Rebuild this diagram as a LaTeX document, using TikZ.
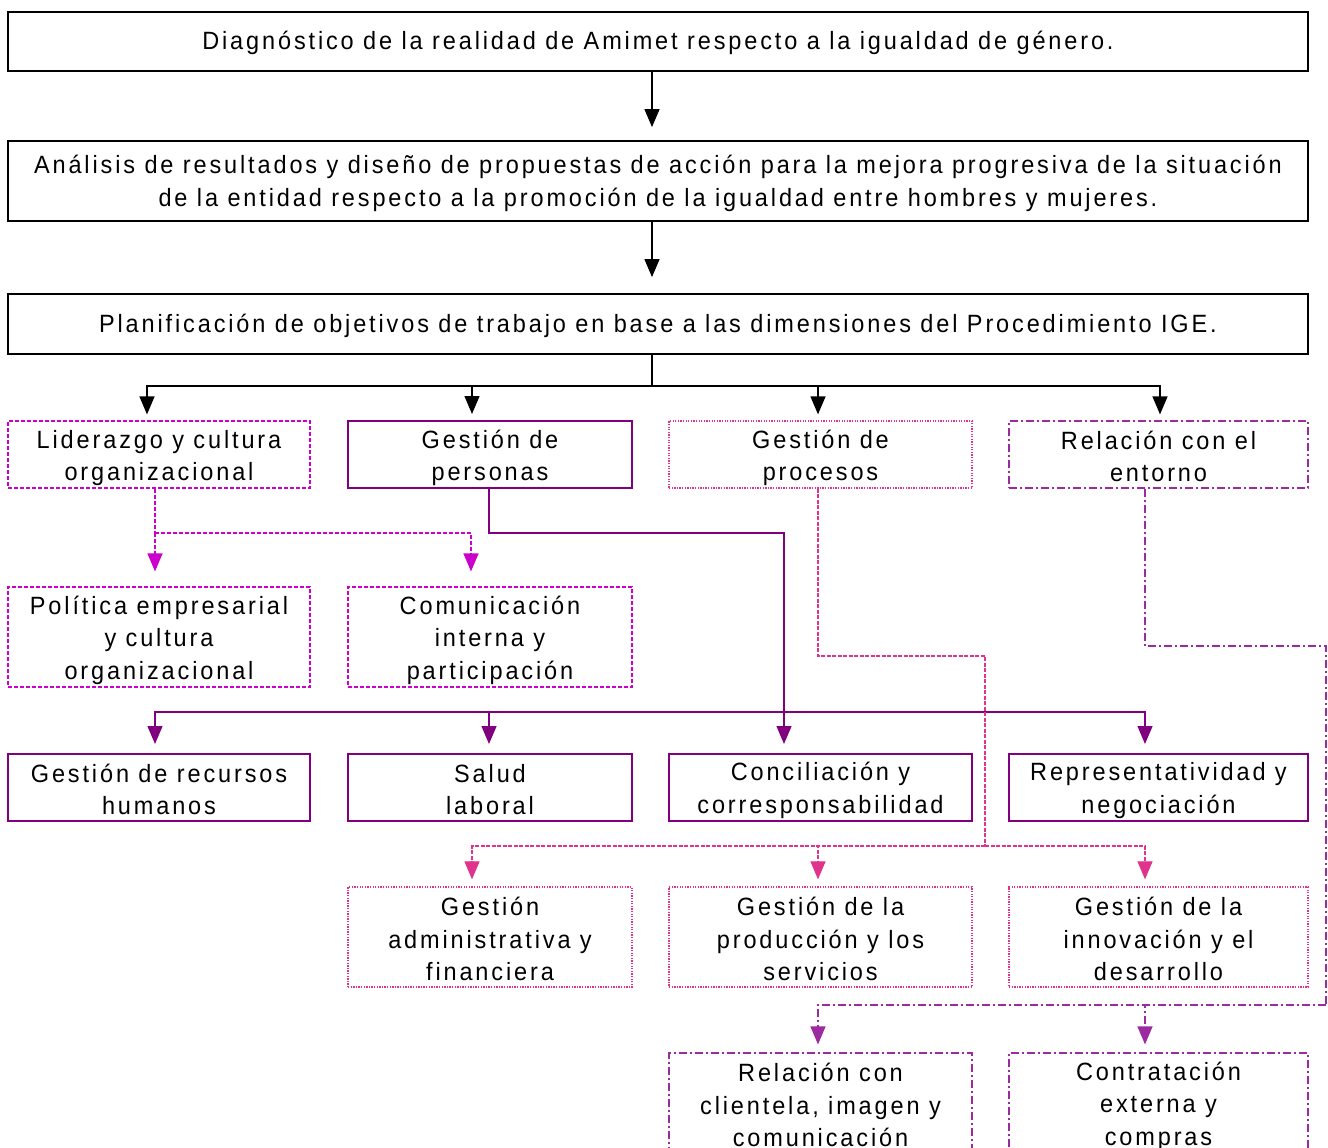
\documentclass[tikz,border=0pt]{standalone}
\usepackage{fontspec}
\usetikzlibrary{arrows.meta,calc}
\newfontfamily\dfont[LetterSpace=11.5,FakeStretch=0.94]{Liberation Sans}
\definecolor{magc}{HTML}{CC00CC}
\definecolor{purc}{HTML}{800080}
\definecolor{pinkc}{HTML}{E0338C}
\definecolor{ddc}{HTML}{9C2AA0}
\tikzset{
  bx/.style={draw, rectangle, inner sep=0pt},
  txt/.style={inner sep=0pt, align=center, text=black,
    font=\dfont\fontsize{25}{32.5}\selectfont},
  blkbox/.style={bx, line width=1.8pt},
  mgbox/.style={bx, draw=magc, line width=1.2pt, dash pattern=on 4pt off 2pt},
  pubox/.style={bx, draw=purc, line width=2pt},
  pkbox/.style={bx, draw=pinkc, line width=1.3pt, dash pattern=on 1.3pt off 1.3pt},
  ddbox/.style={bx, draw=ddc, line width=1.2pt, dash pattern=on 8pt off 3pt on 2pt off 3pt},
  tip/.style={-{Triangle[length=18pt,width=15pt]}},
  blkln/.style={draw=black, line width=1.3pt},
  mgln/.style={draw=magc, line width=1.2pt, dash pattern=on 4pt off 2pt},
  puln/.style={draw=purc, line width=1.3pt},
  pkln/.style={draw=pinkc, line width=1.2pt, dash pattern=on 4pt off 1.5pt},
  ddln/.style={draw=ddc, line width=1.2pt, dash pattern=on 8pt off 3pt on 2pt off 3pt},
}
\begin{document}
\begin{tikzpicture}[x=1pt,y=-1pt]
\useasboundingbox (0,0) rectangle (1328,1148);
\fill[white] (0,0) rectangle (1328,1148);
\clip (0,0) rectangle (1328,1148);
% top boxes
\node[blkbox, minimum width=1300pt, minimum height=59pt] (t1) at (658,41.5) {};
\node[blkbox, minimum width=1300pt, minimum height=80pt] (t2) at (658,181) {};
\node[blkbox, minimum width=1300pt, minimum height=60pt] (t3) at (658,324) {};
% row A
\node[mgbox, minimum width=302pt, minimum height=67pt] (a1) at (159,454.5) {};
\node[pubox, minimum width=284pt, minimum height=67pt] (a2) at (490,454.5) {};
\node[pkbox, minimum width=303pt, minimum height=67pt] (a3) at (820.5,454.5) {};
\node[ddbox, minimum width=299pt, minimum height=67pt] (a4) at (1158.5,454.5) {};
% row B
\node[mgbox, minimum width=302pt, minimum height=100pt] (b1) at (159,637) {};
\node[mgbox, minimum width=284pt, minimum height=100pt] (b2) at (490,637) {};
% row C
\node[pubox, minimum width=302pt, minimum height=67pt] (c1) at (159,787.5) {};
\node[pubox, minimum width=284pt, minimum height=67pt] (c2) at (490,787.5) {};
\node[pubox, minimum width=303pt, minimum height=67pt] (c3) at (820.5,787.5) {};
\node[pubox, minimum width=299pt, minimum height=67pt] (c4) at (1158.5,787.5) {};
% row D
\node[pkbox, minimum width=284pt, minimum height=100pt] (d2) at (490,937) {};
\node[pkbox, minimum width=303pt, minimum height=100pt] (d3) at (820.5,937) {};
\node[pkbox, minimum width=299pt, minimum height=100pt] (d4) at (1158.5,937) {};
% row E
\node[ddbox, minimum width=303pt, minimum height=100pt] (e3) at (820.5,1103) {};
\node[ddbox, minimum width=299pt, minimum height=100pt] (e4) at (1158.5,1103) {};
% texts
\node[txt] (t1t) at ([yshift=-1.5pt]t1.center) {Diagnóstico de la realidad de Amimet respecto a la igualdad de género.};
\node[txt] (t2t) at ([yshift=-2.5pt]t2.center) {Análisis de resultados y diseño de propuestas de acción para la mejora progresiva de la situación\\de la entidad respecto a la promoción de la igualdad entre hombres y mujeres.};
\node[txt] (t3t) at ([yshift=-2pt]t3.center) {Planificación de objetivos de trabajo en base a las dimensiones del Procedimiento IGE.};
\node[txt] (a1t) at ([yshift=-3.5pt]a1.center) {Liderazgo y cultura\\organizacional};
\node[txt] (a2t) at ([yshift=-3.5pt]a2.center) {Gestión de\\personas};
\node[txt] (a3t) at ([yshift=-3.5pt]a3.center) {Gestión de\\procesos};
\node[txt] (a4t) at ([yshift=-2pt]a4.center) {Relación con el\\entorno};
\node[txt] (b1t) at ([yshift=-3pt]b1.center) {Política empresarial\\y cultura\\organizacional};
\node[txt] (b2t) at ([yshift=-3pt]b2.center) {Comunicación\\interna y\\participación};
\node[txt] (c1t) at ([yshift=-2pt]c1.center) {Gestión de recursos\\humanos};
\node[txt] (c2t) at ([yshift=-2pt]c2.center) {Salud\\laboral};
\node[txt] (c3t) at ([yshift=-3pt]c3.center) {Conciliación y\\corresponsabilidad};
\node[txt] (c4t) at ([yshift=-3pt]c4.center) {Representatividad y\\negociación};
\node[txt] (d2t) at ([yshift=-2pt]d2.center) {Gestión\\administrativa y\\financiera};
\node[txt] (d3t) at ([yshift=-2pt]d3.center) {Gestión de la\\producción y los\\servicios};
\node[txt] (d4t) at ([yshift=-2pt]d4.center) {Gestión de la\\innovación y el\\desarrollo};
\node[txt] (e3t) at ([yshift=-2pt]e3.center) {Relación con\\clientela, imagen y\\comunicación};
\node[txt] (e4t) at ([yshift=-3pt]e4.center) {Contratación\\externa y\\compras};
% x guides
\coordinate (x147) at (147,0);
\coordinate (x155) at (155,0);
\coordinate (x471) at (471,0);
\coordinate (x472) at (472,0);
\coordinate (x489) at (489,0);
\coordinate (x652) at (652,0);
\coordinate (x784) at (784,0);
\coordinate (x818) at (818,0);
\coordinate (x1145) at (1145,0);
\coordinate (x1160) at (1160,0);
% black connectors
\draw[blkln, tip, shorten >=13pt] (t1.south -| x652) -- (t2.north -| x652);
\draw[blkln, tip, shorten >=16pt] (t2.south -| x652) -- (t3.north -| x652);
\coordinate (jA) at (652,386);
\draw[blkln] (t3.south -| x652) -- (jA);
\draw[blkln, tip, shorten >=6pt] (jA) -| (a1.north -| x147);
\draw[blkln, tip, shorten >=6pt] (jA) -| (a2.north -| x472);
\draw[blkln, tip, shorten >=6pt] (jA) -| (a3.north -| x818);
\draw[blkln, tip, shorten >=6pt] (jA) -| (a4.north -| x1160);
% magenta connectors
\coordinate (jM) at (155,533);
\draw[mgln] (a1.south -| x155) -- (jM);
\draw[mgln, tip, shorten >=15pt] (jM) -- (b1.north -| x155);
\draw[mgln, tip, shorten >=15pt] (jM) -| (b2.north -| x471);
% purple connectors
\coordinate (jP1) at (784,533);
\coordinate (jP) at (784,712);
\draw[puln] (a2.south -| x489) |- (jP1) -- (jP);
\draw[puln, tip, shorten >=9pt] (jP) -- (c3.north -| x784);
\draw[puln, tip, shorten >=9pt] (jP) -| (c1.north -| x155);
\draw[puln, tip, shorten >=9pt] (jP) -| (c2.north -| x489);
\draw[puln, tip, shorten >=9pt] (jP) -| (c4.north -| x1145);
% pink connectors
\coordinate (jK1) at (818,656);
\coordinate (jK) at (985,846);
\draw[pkln] (a3.south -| x818) -- (jK1) -| (jK);
\draw[pkln, tip, shorten >=7pt] (jK) -| (d2.north -| x472);
\draw[pkln, tip, shorten >=7pt] (jK) -| (d3.north -| x818);
\draw[pkln, tip, shorten >=7pt] (jK) -| (d4.north -| x1145);
% dash-dot connectors
\coordinate (jD1) at (1145,646);
\coordinate (jD) at (1326,1005);
\draw[ddln] (a4.south -| x1145) -- (jD1) -| (jD);
\draw[ddln, tip, shorten >=8pt] (jD) -| (e3.north -| x818);
\draw[ddln, tip, shorten >=8pt] (jD) -| (e4.north -| x1145);
\end{tikzpicture}
\end{document}
